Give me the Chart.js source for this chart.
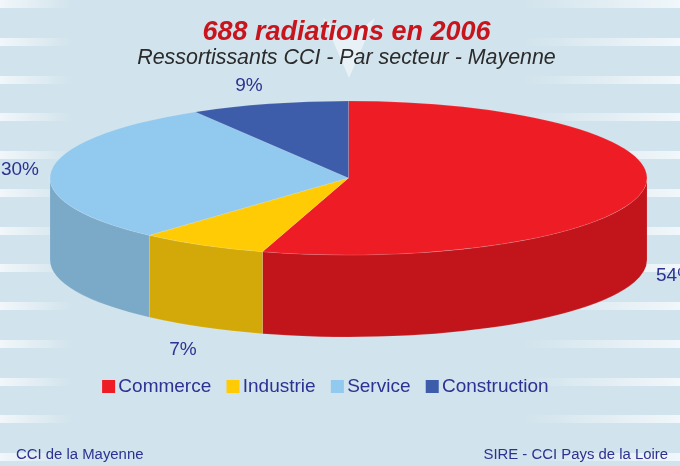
<!DOCTYPE html>
<html><head><meta charset="utf-8">
<style>html,body{margin:0;padding:0;background:#d1e3ec;overflow:hidden}canvas{display:block}</style>
<script src="https://cdn.jsdelivr.net/npm/chart.js@4"></script>
</head><body>
<canvas id="c" width="680" height="466"></canvas>
<script>
const categories = ["Commerce", "Industrie", "Service", "Construction"];
const counts = [376, 48, 205, 59];
const percentLabels = ["54%", "7%", "30%", "9%"];
const topColors = ["#ee1c25", "#ffcb05", "#92c9ee", "#3d5ca9"];
const wallColors = ["#c2141b", "#d2a908", "#7ba9c8", "#2f4a8a"];
const titleText = "688 radiations en 2006";
const subtitleText = "Ressortissants CCI - Par secteur - Mayenne";
const footerLeft = "CCI de la Mayenne";
const footerRight = "SIRE - CCI Pays de la Loire";
const INK = "#2e3192";

const PIE = {cx: 348.5, cy: 178, r: 298.5, ry: 77, depth: 82};
const stripeTops = [0, 38, 76, 113, 151, 189, 227, 264, 302, 340, 378, 415, 453];

const backdrop = {
  id: "backdrop",
  beforeDraw(chart) {
    const ctx = chart.ctx;
    ctx.save();
    ctx.fillStyle = "#d1e3ec";
    ctx.fillRect(0, 0, 680, 466);
    stripeTops.forEach(y => {
      let g = ctx.createLinearGradient(0, 0, 72, 0);
      g.addColorStop(0, "rgba(241,247,250,1)");
      g.addColorStop(1, "rgba(241,247,250,0)");
      ctx.fillStyle = g;
      ctx.fillRect(0, y, 72, 8);
      g = ctx.createLinearGradient(522, 0, 680, 0);
      g.addColorStop(0, "rgba(241,247,250,0)");
      g.addColorStop(1, "rgba(241,247,250,1)");
      ctx.fillStyle = g;
      ctx.fillRect(522, y, 158, 8);
    });
    ctx.fillStyle = "rgba(255,255,255,0.5)";
    ctx.beginPath();
    ctx.moveTo(323, 18); ctx.lineTo(349, 38); ctx.lineTo(375, 18); ctx.lineTo(349, 78);
    ctx.closePath(); ctx.fill();
    ctx.restore();
  }
};

const pie3d = {
  id: "pie3d",
  afterLayout(chart) {
    chart.legend.left -= 18;
    chart.legend.right -= 18;
  },
  beforeDatasetDraw(chart, args) {
    const ctx = chart.ctx;
    const k = PIE.ry / PIE.r;
    const arcs = args.meta.data;
    arcs.forEach((a, i) => {
      const p = a.getProps(["startAngle", "endAngle", "outerRadius"]);
      const from = Math.max(p.startAngle, 0), to = Math.min(p.endAngle, Math.PI);
      if (to <= from) return;
      ctx.save();
      ctx.translate(PIE.cx, PIE.cy);
      ctx.beginPath();
      ctx.save(); ctx.scale(1, k); ctx.arc(0, 0, p.outerRadius, from, to); ctx.restore();
      ctx.save(); ctx.translate(0, PIE.depth); ctx.scale(1, k); ctx.arc(0, 0, p.outerRadius, to, from, true); ctx.restore();
      ctx.closePath();
      ctx.fillStyle = wallColors[i];
      ctx.fill();
      ctx.strokeStyle = "rgba(255,255,255,0.22)";
      ctx.lineWidth = 0.6;
      ctx.stroke();
      ctx.restore();
    });
    ctx.save();
    ctx.translate(PIE.cx, PIE.cy);
    ctx.scale(1, k);
    ctx.translate(-arcs[0].x, -arcs[0].y);
  },
  afterDatasetDraw(chart, args) {
    const ctx = chart.ctx;
    ctx.restore();
    ctx.save();
    ctx.fillStyle = INK;
    ctx.font = "19px 'Liberation Sans'";
    ctx.textAlign = "center";
    ctx.textBaseline = "middle";
    args.meta.data.forEach((a, i) => {
      const p = a.getProps(["startAngle", "endAngle"]);
      const m = (p.startAngle + p.endAngle) / 2;
      const c = Math.cos(m), s = Math.sin(m);
      const gap = s > 0 ? 8 + 8 * Math.abs(c) : 16;
      const x = PIE.cx + c * 314 + Math.sign(c) * gap;
      const y = PIE.cy + 1.5 + s * (PIE.ry + (s > 0 ? 24 : 20)) + (s > 0 ? PIE.depth : 0);
      ctx.fillText(percentLabels[i], x, y);
    });
    ctx.font = "14.9px 'Liberation Sans'";
    ctx.textAlign = "left";
    ctx.fillText(footerLeft, 16, 455);
    ctx.textAlign = "right";
    ctx.fillText(footerRight, 668, 455);
    ctx.restore();
  }
};

new Chart(document.getElementById("c"), {
  type: "pie",
  data: {
    labels: categories,
    datasets: [{
      data: counts,
      backgroundColor: topColors,
      borderWidth: 0.8,
      borderColor: "rgba(255,255,255,0.22)",
      clip: false
    }]
  },
  options: {
    responsive: false,
    animation: false,
    radius: PIE.r,
    layout: {padding: {left: 13, right: 0, top: 19.5, bottom: 60}},
    plugins: {
      title: {
        display: true, text: titleText, color: "#c8151d",
        font: {family: "'Liberation Sans'", size: 27, weight: "bold", style: "italic", lineHeight: 1},
        padding: {top: 0, bottom: 0}
      },
      subtitle: {
        display: true, text: subtitleText, color: "#2b2b2b",
        font: {family: "'Liberation Sans'", size: 21.4, style: "italic", lineHeight: 1.1},
        padding: {top: 0, bottom: 0}
      },
      legend: {
        display: true, position: "bottom",
        labels: {
          color: INK, boxWidth: 0.5, boxHeight: 0.5, padding: 21.5,
          font: {family: "'Liberation Sans'", size: 19},
          generateLabels: () => categories.map((t, i) => ({
            text: t, fillStyle: topColors[i], strokeStyle: topColors[i],
            lineWidth: 12.5, fontColor: INK, index: i, hidden: false
          }))
        }
      },
      tooltip: {enabled: false}
    }
  },
  plugins: [backdrop, pie3d]
});
</script>
</body></html>
